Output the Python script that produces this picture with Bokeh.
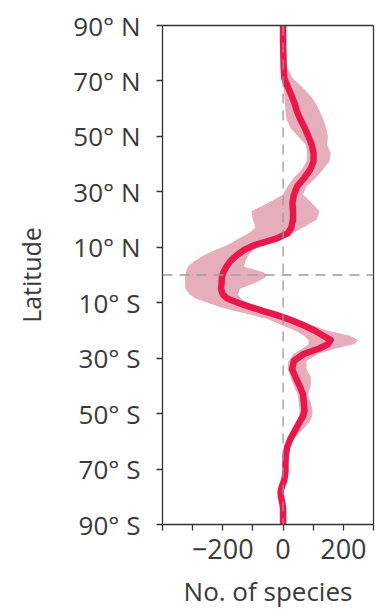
from bokeh.plotting import figure
from bokeh.models import Range1d, FixedTicker, Span, LinearAxis
from bokeh.embed import file_html
from bokeh.resources import INLINE

# Latitude (degrees, + = N) and number of species
lat = [90, 85, 80, 75, 71, 68, 65, 62, 59, 56, 53, 50, 47, 44, 41, 38, 35, 32, 29, 26,
       23, 20, 17, 15, 13, 11, 9, 7, 5, 3, 1, 0, -1, -3, -5, -7, -8.5, -10, -11.5, -13,
       -14.5, -16, -18, -20, -22, -23.5, -25, -26.5, -28.5, -31, -34, -37, -40, -43, -46,
       -49, -51, -53, -55, -57, -59, -62, -65, -68, -71, -74, -76, -78, -80, -82, -84, -87, -90]
mean = [0, 0, 1, 2, 4, 15, 27, 38, 46, 58, 72, 84, 95, 101, 101, 90, 70, 47, 36, 31,
        33, 33, 27, 15, -25, -90, -130, -155, -175, -188, -198, -201, -203, -204, -206, -200, -185, -150, -110, -65,
        -20, 20, 65, 104, 135, 158, 148, 120, 68, 36, 30, 42, 55, 66, 69,
        71, 66, 55, 45, 35, 25, 14, 9, 8, 8, 4, -3, -8, -7, -3, 0, 0, 0]
lower = [-3, -3, -2, -1, 0, 2, 4, 6, 8, 12, 25, 50, 75, 80, 78, 62, 35, 15, 0, -50,
         -105, -100, -92, -115, -150, -180, -225, -264, -295, -316, -322, -324, -325, -325, -324, -310, -290, -250, -210, -160,
         -100, -50, -5, 40, 70, 85, 85, 65, 35, 18, 15, 25, 36, 48, 52,
         55, 52, 42, 33, 24, 15, 7, 4, 4, 4, 1, -6, -11, -10, -6, -3, -3, -3]
upper = [3, 3, 4, 12, 32, 62, 88, 108, 122, 134, 143, 149, 146, 158, 154, 132, 108, 78, 66, 95,
         121, 112, 65, 30, -5, -60, -100, -115, -125, -130, -65, -55, -60, -95, -143, -150, -140, -120, -77, -35,
         10, 50, 95, 145, 225, 250, 235, 175, 115, 78, 78, 92, 92, 82, 92,
         98, 96, 88, 72, 55, 35, 20, 13, 11, 10, 6, 0, -5, -4, 0, 3, 3, 3]

lat_ticks = [90, 70, 50, 30, 10, -10, -30, -50, -70, -90]
lat_labels = ["90° N", "70° N", "50° N", "30° N", "10° N", "10° S", "30° S", "50° S", "70° S", "90° S"]
x_ticks = [-400, -300, -200, -100, 0, 100, 200, 300]
x_labels = ["", "", "\u2212200", "", "0", "", "200", ""]

FONT = "Open Sans"
TXT = "#3a3a3a"
AX = "#333333"

p = figure(width=376, height=613, output_backend="svg", toolbar_location=None,
           x_range=Range1d(-400, 300), y_range=Range1d(-90, 90),
           min_border_left=162, min_border_right=3, min_border_top=25, min_border_bottom=89)
p.background_fill_color = "white"
p.border_fill_color = "white"
p.outline_line_color = None
p.grid.visible = False

xb = p.below[0]
yl = p.left[0]

p.harea(x1=lower, x2=upper, y=lat, fill_color="#e3a4b2", fill_alpha=0.9)
p.line(x=mean, y=lat, line_color="#e8174c", line_width=6.5, line_join="round", line_cap="round")

p.add_layout(Span(location=0, dimension="height", line_color="#9a9a9a", line_width=1.3, line_dash="10 7"))
p.add_layout(Span(location=0, dimension="width", line_color="#9a9a9a", line_width=1.3, line_dash="10 7"))

# frame lines on top and right (no ticks / labels)
for side in ("above", "right"):
    p.add_layout(LinearAxis(ticker=FixedTicker(ticks=[]), major_tick_line_color=None,
                            minor_tick_line_color=None, axis_line_color=AX,
                            axis_line_width=1.3, major_label_standoff=0), side)

for ax in (xb, yl):
    ax.axis_line_color = AX
    ax.axis_line_width = 1.3
    ax.major_tick_line_color = AX
    ax.major_tick_line_width = 1.3
    ax.major_tick_out = 6
    ax.major_tick_in = 0
    ax.minor_tick_line_color = None
    ax.major_label_text_font = FONT
    ax.major_label_text_color = TXT
    ax.axis_label_text_font = FONT
    ax.axis_label_text_color = TXT
    ax.axis_label_text_font_style = "normal"

yl.ticker = FixedTicker(ticks=lat_ticks)
yl.major_label_overrides = dict(zip(lat_ticks, lat_labels))
yl.major_label_text_font_size = "26px"
yl.major_label_standoff = 16
yl.axis_label = "Latitude"
yl.axis_label_text_font_size = "25px"
yl.axis_label_standoff = 22

xb.ticker = FixedTicker(ticks=x_ticks)
xb.major_label_overrides = dict(zip(x_ticks, x_labels))
xb.major_label_text_font_size = "27px"
xb.major_label_standoff = 8
xb.axis_label = "No. of species"
xb.axis_label_text_font_size = "26px"
xb.axis_label_standoff = 11

open("out.html", "w").write(file_html(p, INLINE))
